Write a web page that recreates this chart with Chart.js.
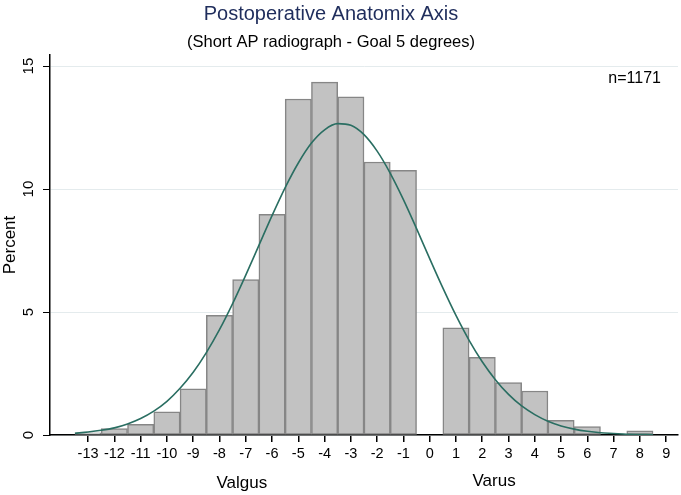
<!DOCTYPE html>
<html><head><meta charset="utf-8">
<script src="https://cdn.jsdelivr.net/npm/chart.js@4.4.1/dist/chart.umd.min.js"></script>
<style>html,body{margin:0;padding:0;background:#fff}#wrap{width:681px;height:495px}</style>
</head><body><div id="wrap"><canvas id="c" width="681" height="495"></canvas></div>
<script>
// ---- data ----
const categories = [-13,-12,-11,-10,-9,-8,-7,-6,-5,-4,-3,-2,-1,0,1,2,3,4,5,6,7,8];
const percents   = [0.09,0.26,0.43,0.94,1.88,4.87,6.32,8.97,13.66,14.35,13.75,11.10,10.76,null,4.36,3.16,2.13,1.79,0.60,0.34,null,0.17];
const curveX = [-13.5,-13,-12.5,-12,-11.5,-11,-10.5,-10,-9.5,-9,-8.5,-8,-7.5,-7,-6.5,-6,-5.5,-5,-4.5,-4,-3.5,-3,-2.5,-2,-1.5,-1,-0.5,0,0.5,1,1.5,2,2.5,3,3.5,4,4.5,5,5.5,6,6.5,7,7.5,8,8.5];
const curveY = [0.07,0.12,0.19,0.29,0.45,0.67,0.97,1.37,1.90,2.55,3.35,4.28,5.34,6.50,7.71,8.92,10.06,11.06,11.87,12.41,12.66,12.59,12.21,11.54,10.64,9.57,8.39,7.17,5.98,4.86,3.85,2.98,2.25,1.65,1.18,0.83,0.56,0.37,0.24,0.15,0.09,0.06,0.03,0.02,0.01];
const xTickLabels = [-13,-12,-11,-10,-9,-8,-7,-6,-5,-4,-3,-2,-1,0,1,2,3,4,5,6,7,8,9];
const yTickLabels = [0,5,10,15];
const titleText = 'Postoperative Anatomix Axis';
const subtitleText = '(Short AP radiograph - Goal 5 degrees)';
const nText = 'n=1171';
const yTitle = 'Percent';
const leftLabel = 'Valgus';
const rightLabel = 'Varus';

const FONT = "'Liberation Sans', Arial, sans-serif";

const textPlugin = {
  id: 'texts',
  afterDraw(chart) {
    const ctx = chart.ctx, xs = chart.scales.x, ys = chart.scales.y;
    ctx.save();
    ctx.textAlign = 'center';
    ctx.textBaseline = 'alphabetic';
    ctx.fillStyle = '#1f2d5c';
    ctx.font = '20px ' + FONT;
    ctx.fillText(titleText, 331, 20);
    ctx.fillStyle = '#000';
    ctx.font = '16.5px ' + FONT;
    ctx.fillText(subtitleText, 331, 47);
    ctx.textAlign = 'right';
    ctx.font = '16px ' + FONT;
    ctx.fillText(nText, 661, 83);
    ctx.textAlign = 'center';
    ctx.font = '17px ' + FONT;
    ctx.fillText(leftLabel, xs.getPixelForValue(-7.15), 488);
    ctx.fillText(rightLabel, xs.getPixelForValue(2.45), 486);
    ctx.save();
    ctx.translate(15, 245);
    ctx.rotate(-Math.PI / 2);
    ctx.fillText(yTitle, 0, 0);
    ctx.restore();
    ctx.font = '15px ' + FONT;
    yTickLabels.forEach(v => {
      const py = ys.getPixelForValue(v);
      ctx.save();
      ctx.translate(33, py);
      ctx.rotate(-Math.PI / 2);
      ctx.fillText(String(v), 0, 0);
      ctx.restore();
    });
    ctx.restore();
  }
};

new Chart(document.getElementById('c'), {
  type: 'bar',
  data: {
    datasets: [
      {
        type: 'line',
        order: 0,
        data: curveX.map((x, i) => ({x, y: curveY[i]})),
        borderColor: '#2a6e62',
        borderWidth: 1.6,
        pointRadius: 0,
        cubicInterpolationMode: 'monotone',
        fill: false
      },
      {
        type: 'bar',
        order: 1,
        data: categories.map((x, i) => ({x, y: percents[i]})),
        backgroundColor: '#c2c2c2',
        borderColor: '#868686',
        borderWidth: 1.5,
        borderSkipped: false,
        barPercentage: 1,
        categoryPercentage: 1
      }
    ]
  },
  options: {
    responsive: false,
    animation: false,
    devicePixelRatio: 1,
    layout: { padding: { top: 55, right: 3, left: 0, bottom: 0 } },
    plugins: { legend: { display: false }, tooltip: { enabled: false }, title: { display: false } },
    scales: {
      x: {
        type: 'linear',
        offset: false,
        min: -14.45,
        max: 9.45,
        afterBuildTicks(s) { s.ticks = xTickLabels.map(v => ({ value: v })); },
        afterFit(s) { s.height = 60; },
        grid: { display: true, offset: false, drawOnChartArea: false, drawTicks: true, tickLength: 7, color: '#000', lineWidth: 1.5 },
        border: { display: true, color: '#000', width: 1.5 },
        ticks: { color: '#000', font: { family: FONT, size: 14.5 }, padding: 3, maxRotation: 0, minRotation: 0, autoSkip: false }
      },
      y: {
        min: 0,
        max: 15.45,
        afterBuildTicks(s) { s.ticks = yTickLabels.map(v => ({ value: v })); },
        afterFit(s) { s.width = 50; },
        grid: { display: true, drawOnChartArea: true, drawTicks: true, tickLength: 7, color: '#e4ebed', tickColor: '#000', lineWidth: 1 },
        border: { display: true, color: '#000', width: 1.5 },
        ticks: { display: false }
      }
    }
  },
  plugins: [textPlugin]
});
</script>
</body></html>
